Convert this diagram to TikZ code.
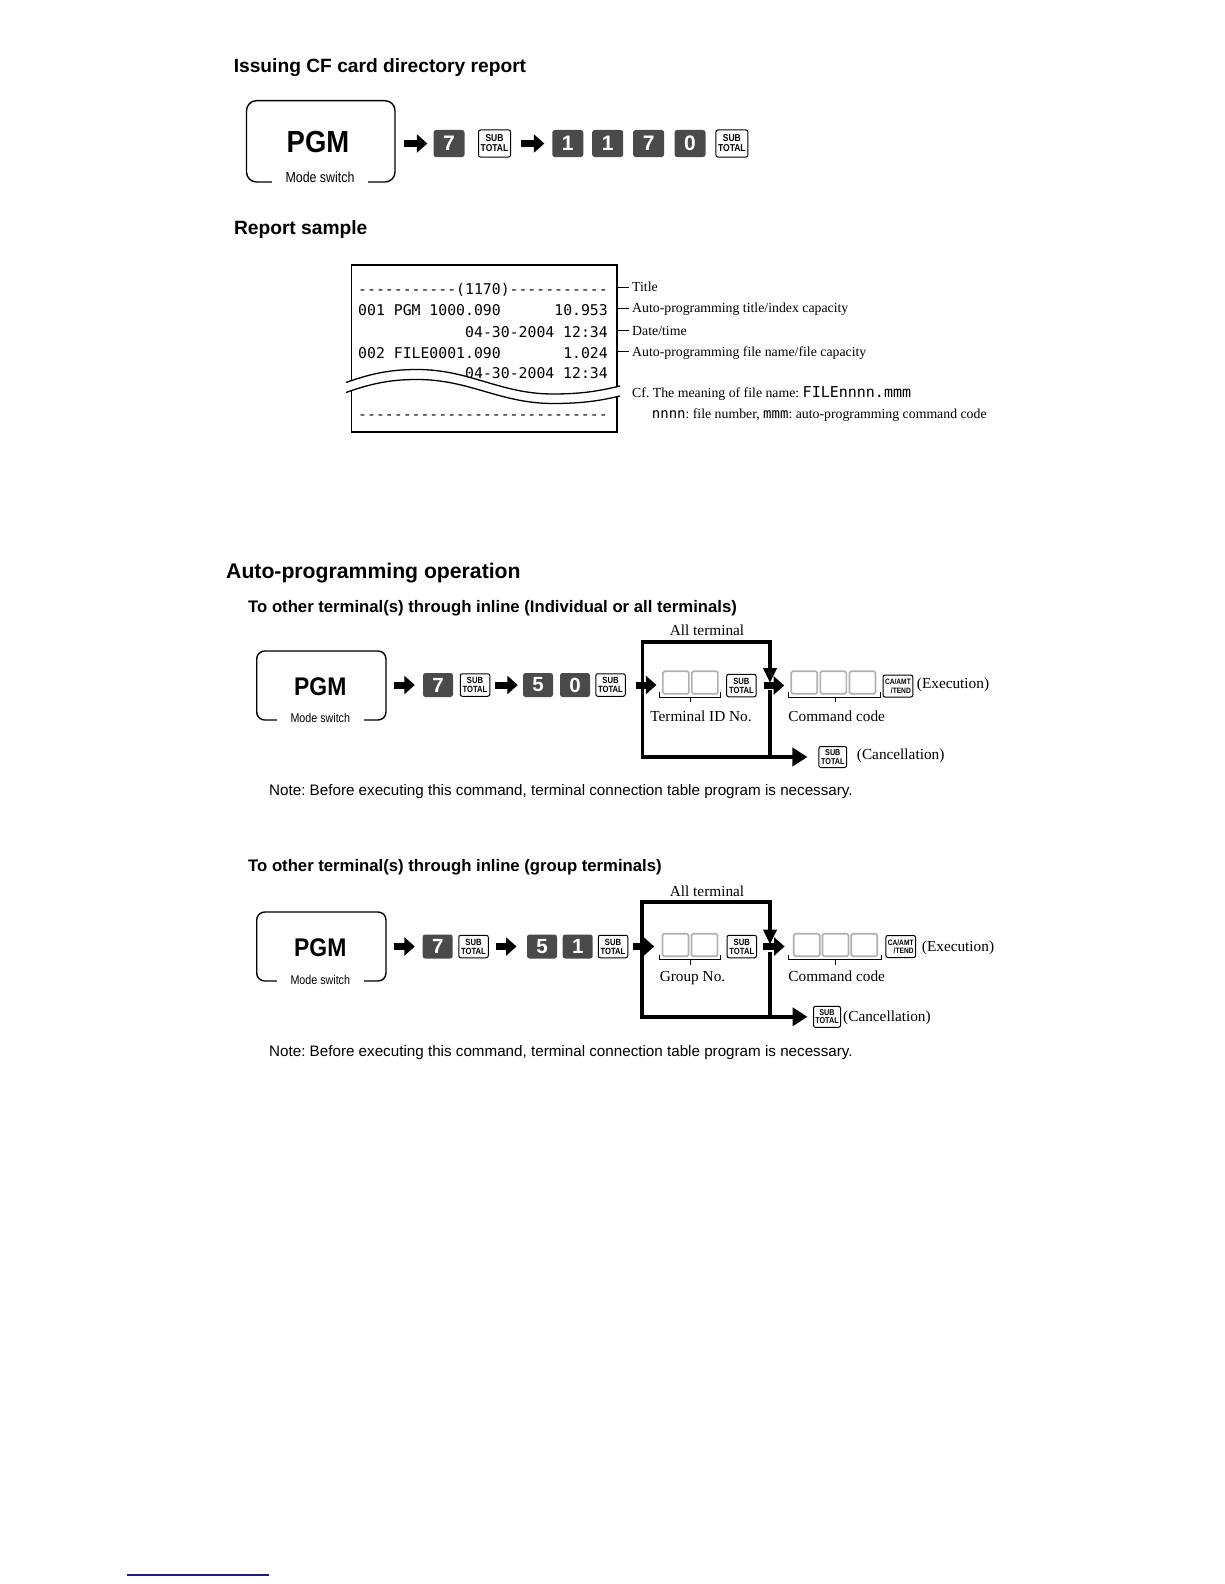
\documentclass[tikz,border=0pt]{standalone}
\usepackage{fontspec}
\setmainfont{Liberation Serif}
\newfontfamily\arialf{Liberation Sans}
\newfontfamily\arialn{Liberation Sans}[FakeStretch=0.85]
\newfontfamily\pgmf{Liberation Sans}[FakeStretch=0.9]
\newfontfamily\monof{DejaVu Sans Mono}[Ligatures=TeXOff]
\usetikzlibrary{arrows.meta}
\newcommand\myfs[2]{\fontsize{#1}{#2}\selectfont}
\definecolor{keygray}{HTML}{4A4A4A}
\definecolor{boxgray}{HTML}{B0B0B0}
\definecolor{navyline}{HTML}{1C1C8A}
\frenchspacing
\tikzset{
  plain/.style={inner sep=0pt},
  hdA/.style={plain, anchor=base west, font=\arialf\bfseries\myfs{19.2}{20}},
  hdB/.style={plain, anchor=base west, font=\arialf\bfseries\myfs{21.2}{22}},
  hdC/.style={plain, anchor=base west, font=\arialf\bfseries\myfs{16.7}{18}},
  notetxt/.style={plain, anchor=base west, font=\arialf\myfs{15.2}{16}},
  pgmbox/.style={draw, line width=1.4pt, rounded corners=9pt, inner sep=0pt},
  pgmtxtA/.style={plain, anchor=base, font=\pgmf\bfseries\myfs{30.5}{31}},
  pgmtxtB/.style={plain, anchor=base, font=\pgmf\bfseries\myfs{25.5}{26}},
  modeA/.style={anchor=base, fill=white, inner xsep=14pt, inner ysep=2pt, font=\arialn\myfs{14.6}{15}},
  modeB/.style={anchor=base, fill=white, inner xsep=14pt, inner ysep=2pt, font=\arialn\myfs{12.6}{13}},
  numkeyA/.style={fill=keygray, rounded corners=2.5pt, minimum width=31pt, minimum height=27pt, inner sep=0pt, text=white, font=\arialf\bfseries\myfs{21}{21}},
  numkeyB/.style={fill=keygray, rounded corners=2.5pt, minimum width=30pt, minimum height=24pt, inner sep=0pt, text=white, font=\arialf\bfseries\myfs{20.5}{21}},
  subkeyA/.style={draw, line width=1pt, rounded corners=2pt, minimum width=32pt, minimum height=27pt, inner sep=0pt, align=center, font=\arialn\bfseries\myfs{10}{10}},
  subkeyB/.style={draw, line width=1pt, rounded corners=2pt, minimum width=29.5pt, minimum height=22.5pt, inner sep=0pt, align=center, font=\arialn\bfseries\myfs{9}{9}},
  subkeyC/.style={draw, line width=1pt, rounded corners=2pt, minimum width=27pt, minimum height=21pt, inner sep=0pt, align=center, font=\arialn\bfseries\myfs{8.5}{8.5}},
  cakey/.style={draw, line width=1pt, rounded corners=2pt, minimum width=29.7pt, minimum height=22pt, inner sep=0pt, align=right, font=\arialn\bfseries\myfs{7.8}{8.5}},
  gbox/.style={draw=boxgray, line width=1.6pt, rounded corners=1.5pt, minimum width=26pt, minimum height=22.5pt, inner sep=0pt},
  blk/.style={line width=7pt, -{Triangle[length=10.5pt,width=18pt]}},
  frame/.style={line width=3.7pt, line join=miter},
  brk/.style={line width=0.9pt},
  lbl/.style={plain, anchor=base west, font=\myfs{13.8}{14}},
  lblB/.style={plain, anchor=base, font=\myfs{15.3}{16}},
  lblBw/.style={plain, anchor=base west, font=\myfs{15.3}{16}},
  rcpt/.style={plain, font=\monof\myfs{14.8}{15}},
  tick/.style={line width=0.8pt},
  rline/.style={line width=1.8pt, line join=miter},
  wave/.style={line width=1.3pt},
}
\begin{document}
\begin{tikzpicture}[x=1pt,y=-1pt]
\useasboundingbox (0,0) rectangle (1224,1584);
\fill[white] (0,0) rectangle (1224,1584);

% ---------------- Section 1 ----------------
\node[hdA] (h1) at (233.6,72.3) {Issuing CF card directory report};
\node[pgmbox, minimum width=148.5pt, minimum height=81.3pt, rounded corners=10pt] (pgm1) at (320.75,141.35) {};
\node[pgmtxtA] (pgm1t) at (318,152) {PGM};
\node[modeA] (pgm1m) at (320,182.3) {Mode switch};
\node[numkeyA] (k1a) at (449,143.5) {7};
\node[subkeyA] (k1b) at (494.5,143.5) {SUB\\TOTAL};
\node[numkeyA] (k1c) at (567.8,143.5) {1};
\node[numkeyA] (k1d) at (607.7,143.5) {1};
\node[numkeyA] (k1e) at (648.6,143.5) {7};
\node[numkeyA] (k1f) at (690,143.5) {0};
\node[subkeyA] (k1g) at (731.9,143.5) {SUB\\TOTAL};
\draw[blk, shorten <=8.5pt, shorten >=6pt] (pgm1.east |- k1a.west) -- (k1a.west);
\draw[blk, shorten <=9.5pt, shorten >=7.8pt] (k1b.east) -- (k1c.west);

% ---------------- Report sample ----------------
\node[hdA] (h2) at (233.8,234.5) {Report sample};
\coordinate (rtl) at (351.5,265);
\coordinate (rtr) at (617,265);
\coordinate (rbl) at (351.5,431.7);
\coordinate (rbr) at (617,431.7);
\draw[rline] (351.5,380.5) -- (rtl) -- (rtr) -- (617,386.8);
\draw[rline] (351.5,390.5) -- (rbl) -- (rbr) -- (617,396.8);
\draw[wave] (346,382.5) .. controls (375,372) and (395,369.5) .. (417,369.5)
  .. controls (470,369.5) and (500,394) .. (553,394)
  .. controls (585,394) and (603,390) .. (620,386);
\draw[wave] (346,392.5) .. controls (375,382) and (395,379.5) .. (417,379.5)
  .. controls (470,379.5) and (500,403.5) .. (553,403.5)
  .. controls (585,403.5) and (603,400) .. (620,396);

\node[rcpt, anchor=base west] (r1) at (358,294.5) {-----------(1170)-----------};
\node[rcpt, anchor=base west] (r2a) at (358,315.3) {001 PGM 1000.090};
\node[rcpt, anchor=base east] (r2b) at (608,315.3) {10.953};
\node[rcpt, anchor=base east] (r3) at (608,337.6) {04-30-2004 12:34};
\node[rcpt, anchor=base west] (r4a) at (358,358.6) {002 FILE0001.090};
\node[rcpt, anchor=base east] (r4b) at (608,358.6) {1.024};
\node[rcpt, anchor=base east] (r5) at (608,378.6) {04-30-2004 12:34};
\node[rcpt, anchor=base west] (r6) at (358,419) {----------------------------};

\node[lbl] (l1) at (632,291) {Title};
\node[lbl] (l2) at (632,312.7) {Auto-programming title/index capacity};
\node[lbl] (l3) at (632,335) {Date/time};
\node[lbl] (l4) at (632,356) {Auto-programming file name/file capacity};
\node[lbl] (l5) at (632,397) {Cf. The meaning of file name: {\monof\myfs{15}{15}FILEnnnn.mmm}};
\node[lbl] (l6) at (651.7,418) {{\monof\myfs{14}{14}nnnn}: file number, {\monof\myfs{14}{14}mmm}: auto-programming command code};
\draw[tick] (617,287.5) -- (629,287.5);
\draw[tick] (617,308.2) -- (629,308.2);
\draw[tick] (617,330.5) -- (629,330.5);
\draw[tick] (617,351.5) -- (629,351.5);

% ---------------- Section 2 ----------------
\node[hdB] (h3) at (226,578.5) {Auto-programming operation};
\node[hdC] (h4) at (248,612) {To other terminal(s) through inline (Individual or all terminals)};
\node[pgmbox, minimum width=129.3pt, minimum height=69pt, rounded corners=8pt] (pgm2) at (321.35,685.5) {};
\node[pgmtxtB] (pgm2t) at (320.3,695) {PGM};
\node[modeB] (pgm2m) at (320.3,722.7) {Mode switch};
\node[numkeyB] (k2a) at (438,685) {7};
\node[subkeyB] (k2b) at (475,685) {SUB\\TOTAL};
\node[numkeyB] (k2c) at (538,685) {5};
\node[numkeyB] (k2d) at (575,685) {0};
\node[subkeyB] (k2e) at (610.5,685) {SUB\\TOTAL};
\draw[blk, shorten <=7pt, shorten >=8pt] (pgm2.east |- k2a.west) -- (k2a.west);
\draw[blk, shorten <=5pt, shorten >=5pt] (k2b.east) -- (k2c.west);

\node[gbox] (b2a) at (675.9,682.5) {};
\node[gbox] (b2b) at (704.9,682.5) {};
\node[subkeyB] (k2f) at (741.4,685.5) {SUB\\TOTAL};
\node[gbox] (c2a) at (804.2,682.5) {};
\node[gbox] (c2b) at (833.3,682.5) {};
\node[gbox] (c2c) at (862.5,682.5) {};
\node[cakey] (k2g) at (897.9,686) {CA/AMT\\/TEND};
\node[subkeyC, minimum width=27.7pt] (k2h) at (832.8,757) {SUB\\TOTAL};

\draw[blk, shorten <=10pt, shorten >=5.7pt] (k2e.east) -- (k2e.east -| b2a.west);
\draw[blk, shorten <=7pt, shorten >=6.2pt] (k2f.east) -- (k2f.east -| c2a.west);

\coordinate (f2tl) at (642.5,641.7);
\coordinate (f2tr) at (770,641.7);
\coordinate (f2bl) at (642.5,757);
\coordinate (f2br) at (770,757);
\coordinate (f2dn) at (770,683);
\coordinate (f2rm) at (770,690);
\coordinate (f2ce) at ([xshift=-11pt]k2h.west);
\draw[frame, {Triangle[length=15pt,width=18pt]}-{Triangle[length=15pt,width=13pt]}]
  (f2ce) -- (f2bl) -- (f2tl) -- (f2tr) -- (f2dn);
\draw[frame] (f2rm) -- (f2br);

\node[lblB] (t2a) at (707,635) {All terminal};
\node[lblB] (t2b) at (701,721.7) {Terminal ID No.};
\node[lblB] (t2c) at (836.7,721.7) {Command code};
\node[lblBw] (t2d) at (916.7,688) {(Execution)};
\node[lblBw] (t2e) at (856.7,759.3) {(Cancellation)};

\draw[brk] (659,692) -- (659,697) -- (720.7,697) -- (720.7,692);
\draw[brk] (690,697) -- (690,702);
\draw[brk] (788,692) -- (788,697) -- (880,697) -- (880,692);
\draw[brk] (835,697) -- (835,702);

\node[notetxt] (n2) at (269,795) {Note: Before executing this command, terminal connection table program is necessary.};

% ---------------- Section 3 ----------------
\node[hdC] (h5) at (248,871) {To other terminal(s) through inline (group terminals)};
\node[pgmbox, minimum width=129.3pt, minimum height=69pt, rounded corners=8pt] (pgm3) at (321.35,946.5) {};
\node[pgmtxtB] (pgm3t) at (320.3,956) {PGM};
\node[modeB] (pgm3m) at (320.3,984.3) {Mode switch};
\node[numkeyB] (k3a) at (437.7,946.5) {7};
\node[subkeyB] (k3b) at (473.5,946.5) {SUB\\TOTAL};
\node[numkeyB] (k3c) at (542,946.5) {5};
\node[numkeyB] (k3d) at (577.7,946.5) {1};
\node[subkeyB] (k3e) at (613,946.5) {SUB\\TOTAL};
\draw[blk, shorten <=7pt, shorten >=7.7pt] (pgm3.east |- k3a.west) -- (k3a.west);
\draw[blk, shorten <=7pt, shorten >=10.3pt] (k3b.east) -- (k3c.west);

\node[gbox] (b3a) at (675.5,945) {};
\node[gbox] (b3b) at (704.5,945) {};
\node[subkeyB] (k3f) at (741.8,946.5) {SUB\\TOTAL};
\node[gbox] (c3a) at (806.7,945) {};
\node[gbox] (c3b) at (835.5,945) {};
\node[gbox] (c3c) at (864.2,945) {};
\node[cakey] (k3g) at (900.7,946.5) {CA/AMT\\/TEND};
\node[subkeyC] (k3h) at (827,1016.8) {SUB\\TOTAL};

\draw[blk, shorten <=5pt, shorten >=7.5pt] (k3e.east) -- (k3e.east -| b3a.west);
\draw[blk, shorten <=6pt, shorten >=8.3pt] (k3f.east) -- (k3f.east -| c3a.west);

\coordinate (f3tl) at (641.7,901.7);
\coordinate (f3tr) at (770,901.7);
\coordinate (f3bl) at (641.7,1016.8);
\coordinate (f3br) at (770,1016.8);
\coordinate (f3dn) at (770,944.5);
\coordinate (f3rm) at (770,952);
\coordinate (f3ce) at ([xshift=-5.5pt]k3h.west);
\draw[frame, {Triangle[length=15pt,width=18pt]}-{Triangle[length=15pt,width=13pt]}]
  (f3ce) -- (f3bl) -- (f3tl) -- (f3tr) -- (f3dn);
\draw[frame] (f3rm) -- (f3br);

\node[lblB] (t3a) at (707,896) {All terminal};
\node[lblB] (t3b) at (692.5,981.7) {Group No.};
\node[lblB] (t3c) at (836.7,981.7) {Command code};
\node[lblBw] (t3d) at (921.7,951) {(Execution)};
\node[lblBw] (t3e) at (843,1021.7) {(Cancellation)};

\draw[brk] (659,954.5) -- (659,959.5) -- (720,959.5) -- (720,954.5);
\draw[brk] (690,959.5) -- (690,964.5);
\draw[brk] (788,954.5) -- (788,959.5) -- (881.7,959.5) -- (881.7,954.5);
\draw[brk] (835,959.5) -- (835,964.5);

\node[notetxt] (n3) at (269,1056) {Note: Before executing this command, terminal connection table program is necessary.};

% ---------------- footer line ----------------
\coordinate (fl1) at (126.7,1575);
\coordinate (fl2) at (269,1575);
\draw[navyline, line width=2pt] (fl1) -- (fl2);
\end{tikzpicture}
\end{document}
